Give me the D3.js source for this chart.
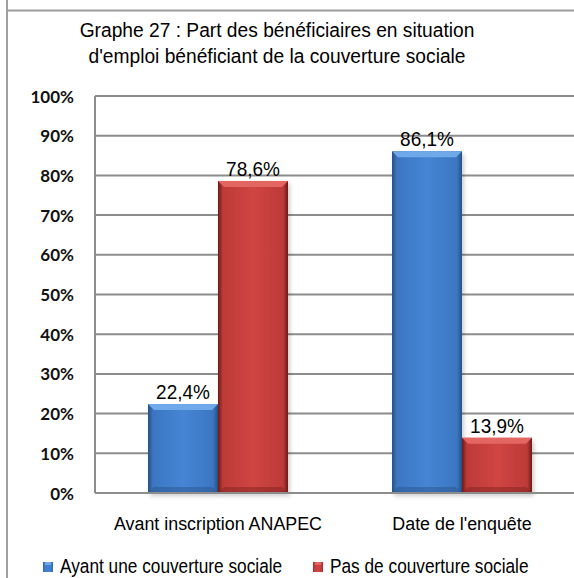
<!DOCTYPE html>
<html lang="fr">
<head>
<meta charset="UTF-8">
<title>Graphe 27</title>
<script src="https://d3js.org/d3.v7.min.js"></script>
<style>
    body { margin: 0; background: #fff; }
    .narrow { font-family: "Liberation Sans Narrow", "Arial Narrow", "Liberation Sans", sans-serif; fill: #000; }
    .ylab { font-family: Lato, "Open Sans", sans-serif; font-weight: bold; font-size: 17px; fill: #111; }
    .grid line { stroke: #8c8c8c; stroke-width: 2px; }
</style>
</head>
<body>
<svg width="574" height="578"></svg>
<script>
    // donnees
    var categories = ["Avant inscription ANAPEC", "Date de l'enquête"];
    var seriesNames = ["Ayant une couverture sociale", "Pas de couverture sociale"];
    var avecCouverture = [22.4, 86.1];
    var sansCouverture = [78.6, 13.9];
    var yTicks = [0, 10, 20, 30, 40, 50, 60, 70, 80, 90, 100];
    var titleLines = ["Graphe 27 : Part des bénéficiaires en situation",
                      "d'emploi bénéficiant de la couverture sociale"];

    var svg = d3.select("svg");

    var x0 = d3.scaleBand().domain(categories).range([96, 584]);
    var x1 = d3.scaleBand().domain(seriesNames).range([0, 140]);
    var y = d3.scaleLinear().domain([0, 100]).range([493, 96]);

    // texte etroit : police compressee horizontalement
    function narrowText(sel, size, sx, anchor) {
        var g = sel.append("g")
            .attr("transform", function(d) { return "translate(" + d.x + "," + d.y + ") scale(" + sx + ",1)"; });
        g.append("text")
            .attr("class", "narrow")
            .attr("text-anchor", anchor)
            .style("font-size", size + "px")
            .text(function(d) { return d.t; });
        return g;
    }

    var defs = svg.append("defs");
    function barGrad(id, dark, mid, light) {
        var g = defs.append("linearGradient").attr("id", id).attr("x1", 0).attr("x2", 1).attr("y1", 0).attr("y2", 0);
        g.append("stop").attr("offset", "0%").attr("stop-color", dark);
        g.append("stop").attr("offset", "7%").attr("stop-color", mid);
        g.append("stop").attr("offset", "50%").attr("stop-color", light);
        g.append("stop").attr("offset", "93%").attr("stop-color", mid);
        g.append("stop").attr("offset", "100%").attr("stop-color", dark);
    }
    barGrad("gBlue", "#284f80", "#3b76c2", "#4585d4");
    barGrad("gRed", "#6e1a19", "#bd3a38", "#d04543");
    defs.append("filter").attr("id", "shadow").attr("x", "-20%").attr("y", "-5%").attr("width", "140%").attr("height", "115%")
        .append("feDropShadow").attr("dx", 2).attr("dy", 3).attr("stdDeviation", 2).attr("flood-color", "#000").attr("flood-opacity", 0.2);

    // cadre
    svg.append("line").attr("x1", 7).attr("x2", 7).attr("y1", 0).attr("y2", 578)
        .style("stroke", "#a0a0a0").style("stroke-width", 2);
    svg.append("line").attr("x1", 7).attr("x2", 574).attr("y1", 10.5).attr("y2", 10.5)
        .style("stroke", "#9a9a9a").style("stroke-width", 2);

    // titre
    narrowText(svg.append("g").selectAll("g")
        .data(titleLines.map(function(t, i) { return {t: t, x: 277, y: 37 + i * 26}; }))
        .enter(), 20, 0.96, "middle");

    // grille
    var grid = svg.append("g").attr("class", "grid");
    grid.selectAll("line").data(yTicks.filter(function(t) { return t > 0; })).enter().append("line")
        .attr("x1", 95).attr("x2", 574)
        .attr("y1", function(d) { return y(d); }).attr("y2", function(d) { return y(d); });

    svg.append("g").selectAll("text").data(yTicks).enter().append("text")
        .attr("class", "ylab")
        .attr("x", 74).attr("y", function(d) { return y(d) + 6.5; })
        .attr("text-anchor", "end")
        .text(function(d) { return d + "%"; });

    // barres
    var values = [avecCouverture, sansCouverture];
    var grads = ["url(#gBlue)", "url(#gRed)"];
    var tops = ["#6fa9ea", "#e46663"];
    var bottoms = ["#2a5285", "#7a2220"];

    var rows = [];
    categories.forEach(function(c, ci) {
        seriesNames.forEach(function(s, si) {
            rows.push({cat: c, serie: s, si: si, v: values[si][ci]});
        });
    });

    var bars = svg.append("g").selectAll("g").data(rows).enter().append("g")
        .attr("transform", function(d) {
            return "translate(" + (x0(d.cat) + (x0.bandwidth() - 140) / 2 + x1(d.serie)) + ",0)";
        });

    bars.append("rect")
        .attr("x", 0).attr("width", x1.bandwidth())
        .attr("y", function(d) { return y(d.v); })
        .attr("height", function(d) { return y(0) - y(d.v); })
        .attr("fill", function(d) { return grads[d.si]; })
        .attr("filter", "url(#shadow)");

    // biseau haut
    bars.append("path")
        .attr("d", function(d) {
            var w = x1.bandwidth(), t = y(d.v);
            return "M0," + t + "L" + w + "," + t + "L" + (w - 6) + "," + (t + 6) + "L6," + (t + 6) + "Z";
        })
        .attr("fill", function(d) { return tops[d.si]; });

    // biseau bas
    bars.append("path")
        .attr("d", function(d) {
            var w = x1.bandwidth(), b = y(0);
            return "M0," + b + "L" + w + "," + b + "L" + (w - 6) + "," + (b - 6) + "L6," + (b - 6) + "Z";
        })
        .attr("fill", function(d) { return bottoms[d.si]; })
        .attr("opacity", 0.45);

    narrowText(bars.append("g").datum(function(d) {
            return {t: d3.format(".1f")(d.v).replace(".", ",") + "%", x: x1.bandwidth() / 2, y: y(d.v) - 5};
        }), 20, 0.95, "middle");

    // axe x
    svg.append("line").attr("x1", 95).attr("x2", 574).attr("y1", y(0)).attr("y2", y(0))
        .style("stroke", "#8c8c8c").style("stroke-width", 2);
    svg.append("line").attr("x1", 95).attr("x2", 95).attr("y1", y(100)).attr("y2", y(0))
        .style("stroke", "#8c8c8c").style("stroke-width", 2);

    narrowText(svg.append("g").selectAll("g")
        .data(categories.map(function(c) { return {t: c, x: x0(c) + x0.bandwidth() / 2, y: 530}; }))
        .enter(), 19, 0.94, "start")
        .select("text").attr("text-anchor", "middle");

    // legende
    var legX = [43, 313];
    var leg = svg.append("g").selectAll("g").data(seriesNames).enter().append("g")
        .attr("transform", function(d, i) { return "translate(" + legX[i] + ",562)"; });
    leg.append("rect").attr("width", 10).attr("height", 10)
        .attr("fill", function(d, i) { return grads[i]; });
    leg.append("rect").attr("x", 2).attr("width", 6).attr("height", 3)
        .attr("fill", function(d, i) { return tops[i]; });
    narrowText(leg.append("g").datum(function(d) { return {t: d, x: 17, y: 11}; }), 19.5, 0.885, "start");
</script>
</body>
</html>
